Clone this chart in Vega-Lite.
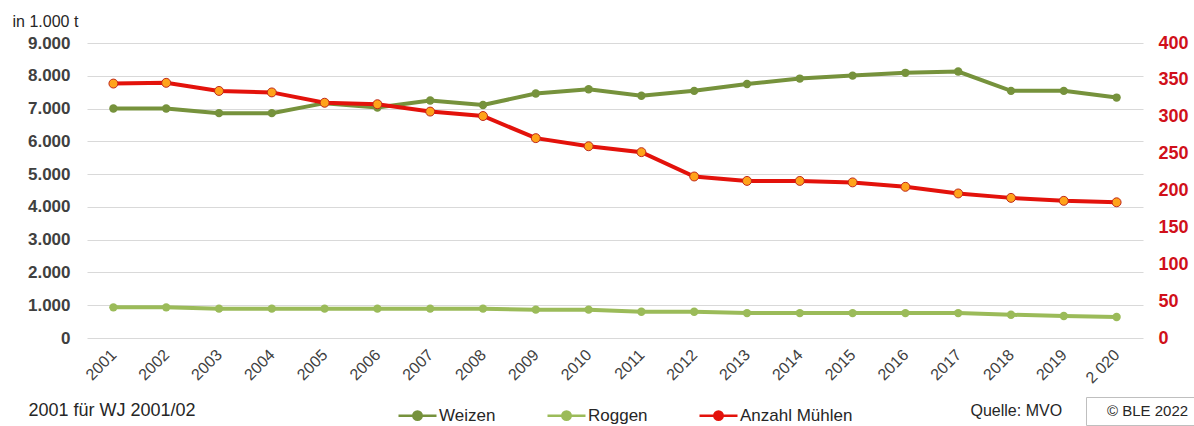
{
  "$schema": "https://vega.github.io/schema/vega-lite/v6.json",
  "width": 1056,
  "height": 295,
  "autosize": {"type": "none"},
  "padding": {"left": 87, "top": 43, "right": 51, "bottom": 88},
  "background": "white",
  "config": {
    "font": "Liberation Sans",
    "view": {"stroke": null},
    "axis": {"domain": false, "ticks": false, "tickSize": 0},
    "locale": {"number": {"decimal": ",", "thousands": ".", "grouping": [3], "currency": ["", " €"]}}
  },
  "data": {
    "values": [
      {"year": "2001", "series": "Weizen", "value": 7000},
      {"year": "2002", "series": "Weizen", "value": 7000},
      {"year": "2003", "series": "Weizen", "value": 6860},
      {"year": "2004", "series": "Weizen", "value": 6860},
      {"year": "2005", "series": "Weizen", "value": 7165},
      {"year": "2006", "series": "Weizen", "value": 7030},
      {"year": "2007", "series": "Weizen", "value": 7245},
      {"year": "2008", "series": "Weizen", "value": 7110},
      {"year": "2009", "series": "Weizen", "value": 7460},
      {"year": "2010", "series": "Weizen", "value": 7590},
      {"year": "2011", "series": "Weizen", "value": 7390},
      {"year": "2012", "series": "Weizen", "value": 7540},
      {"year": "2013", "series": "Weizen", "value": 7750},
      {"year": "2014", "series": "Weizen", "value": 7915},
      {"year": "2015", "series": "Weizen", "value": 8005},
      {"year": "2016", "series": "Weizen", "value": 8090},
      {"year": "2017", "series": "Weizen", "value": 8130},
      {"year": "2018", "series": "Weizen", "value": 7540},
      {"year": "2019", "series": "Weizen", "value": 7540},
      {"year": "2 020", "series": "Weizen", "value": 7335},
      {"year": "2001", "series": "Roggen", "value": 935},
      {"year": "2002", "series": "Roggen", "value": 935},
      {"year": "2003", "series": "Roggen", "value": 895},
      {"year": "2004", "series": "Roggen", "value": 895},
      {"year": "2005", "series": "Roggen", "value": 895},
      {"year": "2006", "series": "Roggen", "value": 895},
      {"year": "2007", "series": "Roggen", "value": 895},
      {"year": "2008", "series": "Roggen", "value": 895},
      {"year": "2009", "series": "Roggen", "value": 865},
      {"year": "2010", "series": "Roggen", "value": 865},
      {"year": "2011", "series": "Roggen", "value": 800},
      {"year": "2012", "series": "Roggen", "value": 800},
      {"year": "2013", "series": "Roggen", "value": 760},
      {"year": "2014", "series": "Roggen", "value": 760},
      {"year": "2015", "series": "Roggen", "value": 760},
      {"year": "2016", "series": "Roggen", "value": 760},
      {"year": "2017", "series": "Roggen", "value": 760},
      {"year": "2018", "series": "Roggen", "value": 710},
      {"year": "2019", "series": "Roggen", "value": 670},
      {"year": "2 020", "series": "Roggen", "value": 640},
      {"year": "2001", "series": "Anzahl Mühlen", "value": 345},
      {"year": "2002", "series": "Anzahl Mühlen", "value": 346},
      {"year": "2003", "series": "Anzahl Mühlen", "value": 335},
      {"year": "2004", "series": "Anzahl Mühlen", "value": 333},
      {"year": "2005", "series": "Anzahl Mühlen", "value": 319},
      {"year": "2006", "series": "Anzahl Mühlen", "value": 317},
      {"year": "2007", "series": "Anzahl Mühlen", "value": 307},
      {"year": "2008", "series": "Anzahl Mühlen", "value": 301},
      {"year": "2009", "series": "Anzahl Mühlen", "value": 271},
      {"year": "2010", "series": "Anzahl Mühlen", "value": 260},
      {"year": "2011", "series": "Anzahl Mühlen", "value": 252},
      {"year": "2012", "series": "Anzahl Mühlen", "value": 219},
      {"year": "2013", "series": "Anzahl Mühlen", "value": 213},
      {"year": "2014", "series": "Anzahl Mühlen", "value": 213},
      {"year": "2015", "series": "Anzahl Mühlen", "value": 211},
      {"year": "2016", "series": "Anzahl Mühlen", "value": 205},
      {"year": "2017", "series": "Anzahl Mühlen", "value": 196},
      {"year": "2018", "series": "Anzahl Mühlen", "value": 190},
      {"year": "2019", "series": "Anzahl Mühlen", "value": 186},
      {"year": "2 020", "series": "Anzahl Mühlen", "value": 184}
    ]
  },
  "encoding": {
    "x": {
      "field": "year",
      "type": "nominal",
      "sort": null,
      "scale": {"type": "point", "padding": 0.5},
      "axis": {
        "labelAngle": -45,
        "labelAlign": "right",
        "labelBaseline": "middle",
        "labelFontSize": 16,
        "labelColor": "#404040",
        "labelPadding": 14,
        "title": "2001 für WJ 2001/02",
        "titleFontSize": 18,
        "titleFontWeight": "normal",
        "titleColor": "#262626",
        "titleX": -59,
        "titleY": 72,
        "titleAlign": "left",
        "titleBaseline": "middle"
      }
    }
  },
  "layer": [
    {
      "transform": [{"filter": "datum.series !== 'Anzahl Mühlen'"}],
      "encoding": {
        "y": {
          "field": "value",
          "type": "quantitative",
          "scale": {"domain": [0, 9000], "nice": false},
          "axis": {
            "values": [0, 1000, 2000, 3000, 4000, 5000, 6000, 7000, 8000, 9000],
            "format": ",d",
            "labelFontSize": 17,
            "labelFontWeight": "bold",
            "labelColor": "#404040",
            "labelPadding": 17,
            "grid": true,
            "gridColor": "#d9d9d9",
            "gridWidth": 1,
            "title": "in 1.000 t",
            "titleAngle": 0,
            "titleFontSize": 16,
            "titleFontWeight": "normal",
            "titleColor": "#262626",
            "titleX": -75,
            "titleY": -22,
            "titleAlign": "left",
            "titleBaseline": "middle"
          }
        },
        "color": {
          "field": "series",
          "type": "nominal",
          "scale": {
            "domain": ["Weizen", "Roggen", "Anzahl Mühlen"],
            "range": ["#76923C", "#9BBB59", "#E3120B"]
          },
          "legend": {
            "title": null,
            "orient": "none",
            "direction": "horizontal",
            "legendX": 310,
            "legendY": 352,
            "symbolType": "M-1,0L-0.22,0M0.22,0L1,0M0.22,0A0.22,0.22 0 1 1 -0.22,0A0.22,0.22 0 1 1 0.22,0Z",
            "symbolSize": 1444,
            "symbolStrokeWidth": 2.5,
            "symbolOpacity": 1,
            "labelFontSize": 17,
            "labelColor": "#262626",
            "labelOffset": 1,
            "columnPadding": 46
          }
        }
      },
      "layer": [
        {"mark": {"type": "line", "strokeWidth": 4}},
        {"mark": {"type": "point", "filled": true, "size": 70, "opacity": 1}}
      ]
    },
    {
      "transform": [{"filter": "datum.series === 'Anzahl Mühlen'"}],
      "encoding": {
        "y": {
          "field": "value",
          "type": "quantitative",
          "scale": {"domain": [0, 400], "nice": false},
          "axis": {
            "orient": "right",
            "values": [0, 50, 100, 150, 200, 250, 300, 350, 400],
            "labelFontSize": 18,
            "labelFontWeight": "bold",
            "labelColor": "#D0101A",
            "labelPadding": 15,
            "grid": false,
            "title": "Quelle: MVO",
            "titleAngle": 0,
            "titleFontSize": 16,
            "titleFontWeight": "normal",
            "titleColor": "#262626",
            "titleX": -173,
            "titleY": 367,
            "titleAlign": "left",
            "titleBaseline": "middle"
          }
        }
      },
      "layer": [
        {
          "mark": {"type": "line", "strokeWidth": 4},
          "encoding": {"color": {"field": "series", "type": "nominal"}}
        },
        {
          "mark": {"type": "point", "filled": true, "size": 80, "fill": "#FFA31A", "stroke": "#C0281C", "strokeWidth": 1, "opacity": 1},
          "encoding": {
            "shape": {
              "datum": "© BLE 2022",
              "type": "nominal",
              "scale": {"range": ["circle"]},
              "legend": {
                "title": null,
                "orient": "none",
                "legendX": 999,
                "legendY": 354,
                "padding": 6,
                "strokeColor": "#bfbfbf",
                "fillColor": "white",
                "symbolSize": 64,
                "symbolOpacity": 0,
                "symbolStrokeWidth": 0,
                "labelOffset": 0,
                "labelFontSize": 15,
                "labelColor": "#262626"
              }
            }
          }
        }
      ]
    }
  ],
  "resolve": {"scale": {"y": "independent"}}
}
